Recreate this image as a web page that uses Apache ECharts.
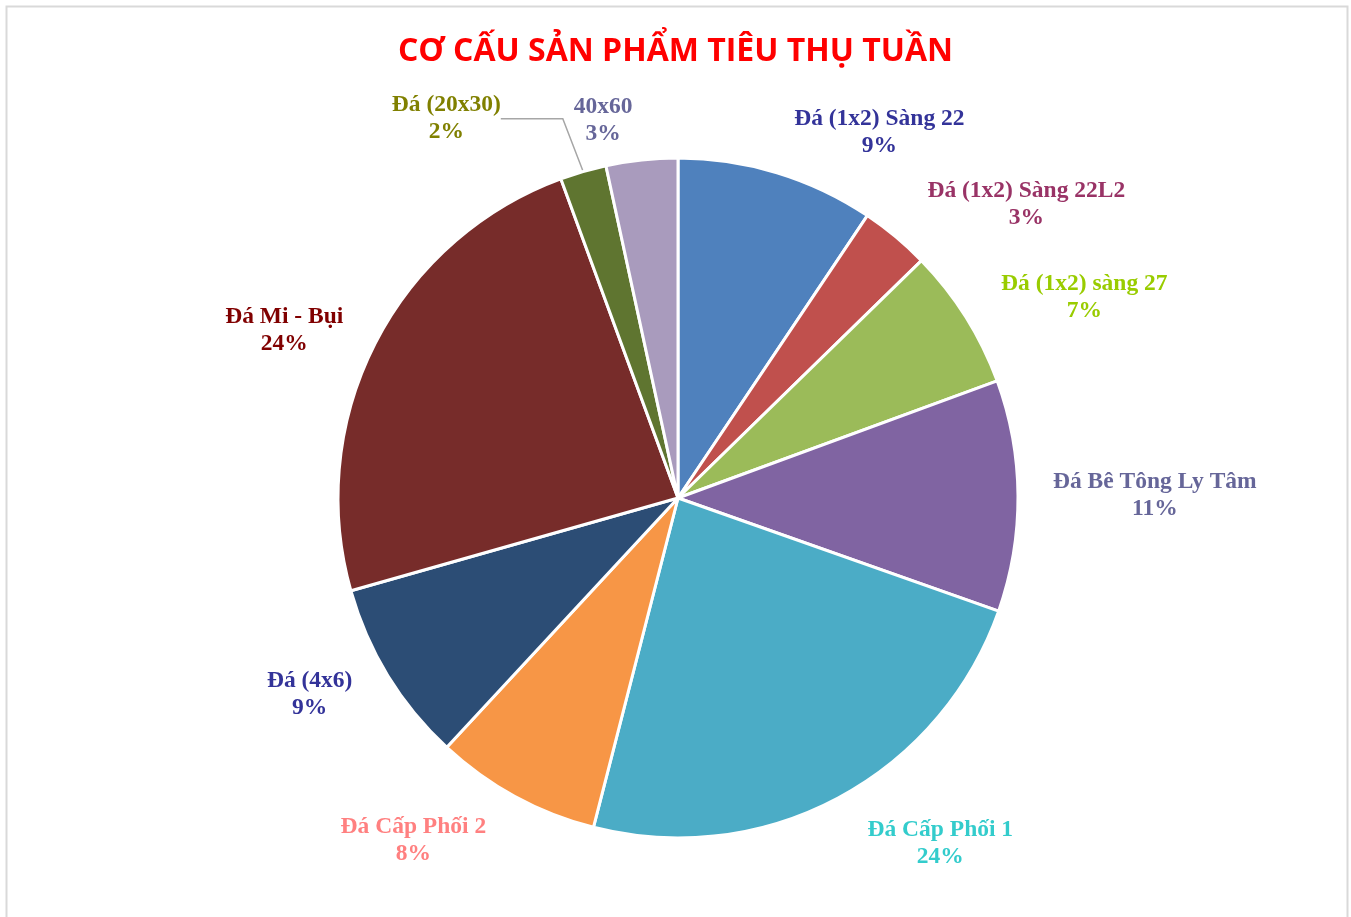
<!DOCTYPE html>
<html>
<head>
<meta charset="utf-8">
<script src="https://cdn.jsdelivr.net/npm/echarts@6/dist/echarts.min.js"></script>
<style>
  html, body { margin: 0; padding: 0; background: #fff; }
  #mychart { width: 1351px; height: 917px; }
</style>
</head>
<body>
<div id="mychart"></div>
<script>
// dữ liệu (phần trăm, theo chiều kim đồng hồ từ đỉnh)
const categories = [
  'Đá (1x2) Sàng 22', 'Đá (1x2) Sàng 22L2', 'Đá (1x2) sàng 27', 'Đá Bê Tông Ly Tâm',
  'Đá Cấp Phối 1', 'Đá Cấp Phối 2', 'Đá (4x6)', 'Đá Mi - Bụi', 'Đá (20x30)', '40x60'
];
const values = [9.4, 3.3, 6.7, 11.0, 23.6, 7.9, 8.7, 23.8, 2.2, 3.4];
const sliceColors = ['#4F81BD', '#C0504D', '#9BBB59', '#8064A2', '#4BACC6',
  '#F79646', '#2C4D75', '#772C2A', '#5F7530', '#A99BBD'];
const labelColors = ['#333399', '#993366', '#99CC00', '#666699', '#33CCCC',
  '#FF8080', '#333399', '#800000', '#808000', '#666699'];

const myChart = echarts.init(document.getElementById('mychart'));

// nhãn trên/dưới đặt xa hơn một chút như Excel
const lineLen = {
  'Đá (1x2) Sàng 22': 42, 'Đá (1x2) Sàng 22L2': 42, 'Đá (1x2) sàng 27': 36,
  'Đá Cấp Phối 1': 52, 'Đá Cấp Phối 2': 50, 'Đá (4x6)': 36, '40x60': 40
};

const seriesData = categories.map((name, i) => {
  const item = {
    name: name,
    value: values[i],
    itemStyle: { color: sliceColors[i] },
    label: { color: labelColors[i] },
    labelLine: { show: false, length: lineLen[name] || 30 }
  };
  // chỉ nhãn nhỏ này có đường dẫn
  if (name === 'Đá (20x30)') item.labelLine = { show: true, length: 55, length2: 62 };
  return item;
});

myChart.setOption({
  animation: false,
  graphic: [{
    type: 'rect',
    shape: { x: 6.5, y: 6.5, width: 1341, height: 930 },
    style: { fill: 'none', stroke: '#d9d9d9', lineWidth: 2 }
  }],
  title: {
    text: 'CƠ CẤU SẢN PHẨM TIÊU THỤ TUẦN',
    left: 'center',
    top: 31,
    textStyle: {
      fontFamily: 'Open Sans',
      fontWeight: 'bold',
      fontSize: 32,
      color: '#FF0000'
    }
  },
  series: [{
    type: 'pie',
    center: [678, 498],
    radius: 340,
    startAngle: 90,
    clockwise: true,
    data: seriesData,
    avoidLabelOverlap: false,
    itemStyle: { borderColor: '#fff', borderWidth: 3 },
    label: {
      show: true,
      position: 'outside',
      fontFamily: 'Liberation Serif',
      fontWeight: 'bold',
      fontSize: 23.5,
      lineHeight: 27,
      formatter: p => p.name + '\n' + Math.round(p.percent) + '%'
    },
    labelLine: {
      length: 30,
      length2: 0,
      lineStyle: { color: '#A6A6A6', width: 1.5 }
    },
    labelLayout: p => {
      const r = p.labelRect;
      return { x: r.x + r.width / 2, y: r.y + r.height / 2, align: 'center', verticalAlign: 'middle' };
    }
  }]
});
window.addEventListener('resize', () => { myChart.resize(); });
</script>
</body>
</html>
